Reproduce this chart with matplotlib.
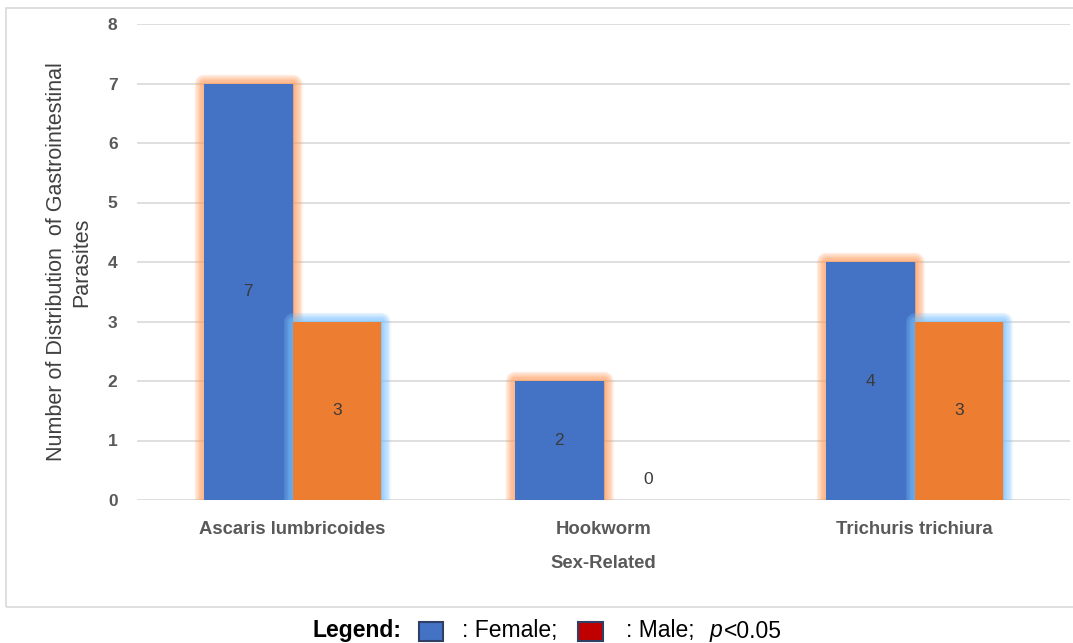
import matplotlib
matplotlib.use("Agg")
import matplotlib.pyplot as plt
import matplotlib.patheffects as pe
from matplotlib.patches import Rectangle
import numpy as np

categories = ["Ascaris lumbricoides", "Hookworm", "Trichuris trichiura"]
female = [7, 2, 4]
male = [3, 0, 3]
yticks = [0, 1, 2, 3, 4, 5, 6, 7, 8]

BLUE = "#4472C4"
ORANGE = "#ED7D31"
GLOW_OR = "#FFA060"
GLOW_BL = "#7CC4FF"
GRAY = "#595959"

cond = ["Liberation Sans Narrow", "Liberation Sans", "DejaVu Sans"]
arial = ["Liberation Sans", "DejaVu Sans"]

W, H = 1073, 643
fig = plt.figure(figsize=(W / 100, H / 100), dpi=100)

# outer frame
fig.patches.append(Rectangle((6 / W, 1 - 607 / H), 1.1, (607 - 8) / H, transform=fig.transFigure,
                             fill=False, edgecolor="#D9D9D9", linewidth=1.2))

ax = fig.add_axes([137 / W, 1 - 500 / H, (1070 - 137) / W, (500 - 24) / H])
ax.set_xlim(-0.5, 2.5)
ax.set_ylim(0, 8)
x = np.arange(len(categories))
bw = 0.285

def glow(color):
    effs = []
    for w in np.linspace(14, 1, 12):
        effs.append(pe.Stroke(linewidth=w, foreground=color, alpha=0.11, joinstyle="round"))
    effs.append(pe.Normal())
    return effs

for i in range(len(categories)):
    if female[i] > 0:
        b = ax.bar(x[i] - bw / 2, female[i], bw, color=BLUE, zorder=3, linewidth=0)
        b[0].set_path_effects(glow(GLOW_OR))
    if male[i] > 0:
        b = ax.bar(x[i] + bw / 2, male[i], bw, color=ORANGE, zorder=3, linewidth=0)
        b[0].set_path_effects(glow(GLOW_BL))

for i in range(len(categories)):
    ax.text(x[i] - bw / 2, female[i] / 2 if female[i] > 0 else 0.34, str(female[i]),
            ha="center", va="center", fontsize=12.5, color="#3A3A3A",
            family=cond, zorder=5)
    ax.text(x[i] + bw / 2, male[i] / 2 if male[i] > 0 else 0.34, str(male[i]),
            ha="center", va="center", fontsize=12.5, color="#3A3A3A",
            family=cond, zorder=5)

ax.set_yticks(yticks)
ax.set_yticklabels([str(v) for v in yticks], fontsize=12.5, fontweight="bold", color=GRAY, family=cond)
ax.set_xticks(x)
ax.set_xticklabels(categories, fontsize=13.3, fontweight="bold", color=GRAY, family=cond)
ax.tick_params(axis="both", length=0)
ax.tick_params(axis="y", pad=14)
ax.tick_params(axis="x", pad=15)
ax.grid(axis="y", color="#D9D9D9", linewidth=1.2, zorder=0)
for s in ax.spines.values():
    s.set_visible(False)
ax.set_xlabel("Sex-Related", fontsize=13.3, fontweight="bold", color=GRAY, family=cond, labelpad=12)
ax.set_ylabel("Number of Distribution  of Gastrointestinal\nParasites", fontsize=15.5,
              color="#404040", family=arial, linespacing=1.25)
ax.yaxis.set_label_coords(-0.048, 0.5)

# legend line
ly = 1 - 631 / H
fs = 16.5
fig.text(312 / W, ly, "Legend:", fontsize=fs, fontweight="bold", color="black", family=arial, va="center")
fig.patches.append(Rectangle((419 / W, 1 - 641 / H), 24 / W, 19 / H, transform=fig.transFigure,
                             facecolor=BLUE, edgecolor="#2F3F66", linewidth=1.5))
fig.text(462 / W, ly, ": Female;", fontsize=fs, color="black", family=arial, va="center")
fig.patches.append(Rectangle((578 / W, 1 - 641 / H), 25 / W, 19 / H, transform=fig.transFigure,
                             facecolor="#C00000", edgecolor="#2F3F66", linewidth=1.5))
fig.text(626 / W, ly, ": Male;", fontsize=fs, color="black", family=arial, va="center")
fig.text(710 / W, ly, "p", fontsize=fs, color="black", family=arial, style="italic", va="center")
fig.text(724 / W, ly, "<0.05", fontsize=fs, color="black", family=arial, va="center")

fig.savefig("out.png", dpi=100)
